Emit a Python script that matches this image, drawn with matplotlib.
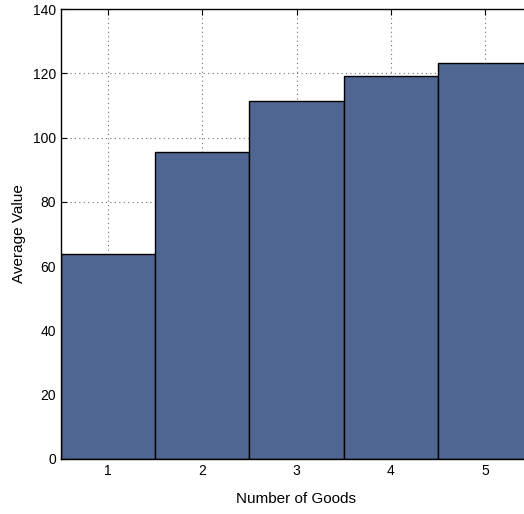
import matplotlib
matplotlib.use("Agg")
import matplotlib.pyplot as plt

goods = [1, 2, 3, 4, 5]
avg_value = [63.8, 95.5, 111.5, 119.2, 123.1]
yticks = [0, 20, 40, 60, 80, 100, 120, 140]

plt.rcParams['font.family'] = ['Liberation Sans', 'DejaVu Sans']

W, H = 524, 514
fig = plt.figure(figsize=(W / 100, H / 100), dpi=100)
# right edge runs past the figure, as in the original
ax = fig.add_axes([61 / W, 1 - 459 / H, 471 / W, 450 / H])

ax.bar(goods, avg_value, width=1.0, color='#4F6592', edgecolor='black', linewidth=1.0, zorder=2)

ax.set_xlim(0.5, 5.5)
ax.set_ylim(0, 140)
ax.set_xticks(goods)
ax.set_yticks(yticks)
ax.grid(True, linestyle=(0, (1, 3)), color='#707070', linewidth=0.8, zorder=0)
ax.set_axisbelow(True)
ax.tick_params(direction='in', top=True, right=True, length=4, labelsize=10, width=0.8)
for s in ax.spines.values():
    s.set_linewidth(1.0)

ax.set_xlabel('Number of Goods', fontsize=11, labelpad=10)
ax.set_ylabel('Average Value', fontsize=11, labelpad=5)

fig.savefig('out.png', dpi=100)
